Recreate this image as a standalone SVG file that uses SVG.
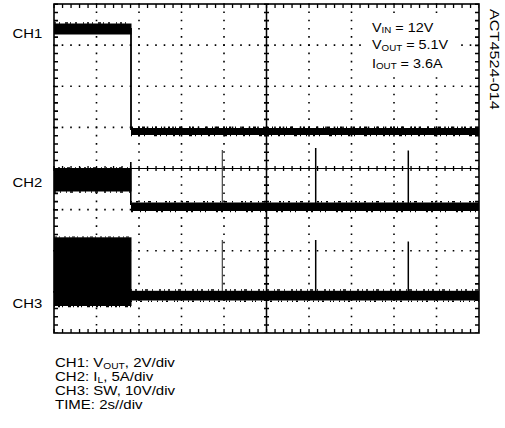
<svg xmlns="http://www.w3.org/2000/svg" width="505" height="428" viewBox="0 0 505 428">
<style>
text{font-family:"Liberation Sans",Arial,sans-serif;fill:#000}
.ch{font-size:13.5px}
.lbl{font-size:12.5px}
.sub{font-size:8.5px}
.dotv{stroke:#000;stroke-width:1.6;stroke-dasharray:1.6 6.625;fill:none}
.doth{stroke:#000;stroke-width:1.6;stroke-dasharray:1.6 6.9;fill:none}
.tr{fill:#000}
.noise{stroke:#000;fill:none}
</style>
<rect width="505" height="428" fill="#fff"/>
<g id="grid">
  <g class="dotv">
    <line x1="96.5" y1="3.2" x2="96.5" y2="333"/>
    <line x1="139" y1="3.2" x2="139" y2="333"/>
    <line x1="181.5" y1="3.2" x2="181.5" y2="333"/>
    <line x1="224" y1="3.2" x2="224" y2="333"/>
    <line x1="309" y1="3.2" x2="309" y2="333"/>
    <line x1="351.5" y1="3.2" x2="351.5" y2="333"/>
    <line x1="394" y1="3.2" x2="394" y2="333"/>
    <line x1="436.5" y1="3.2" x2="436.5" y2="333"/>
  </g>
  <g class="doth">
    <line x1="53.2" y1="45.1" x2="479" y2="45.1"/>
    <line x1="53.2" y1="86.3" x2="479" y2="86.3"/>
    <line x1="53.2" y1="127.4" x2="479" y2="127.4"/>
    <line x1="53.2" y1="209.6" x2="479" y2="209.6"/>
    <line x1="53.2" y1="250.8" x2="479" y2="250.8"/>
    <line x1="53.2" y1="291.9" x2="479" y2="291.9"/>
  </g>
  <line x1="54" y1="168.5" x2="479" y2="168.5" stroke="#000" stroke-width="1.2"/>
  <line x1="266.5" y1="4" x2="266.5" y2="333" stroke="#000" stroke-width="1.5"/>
  <line x1="53.4" y1="168.5" x2="479" y2="168.5" stroke="#000" stroke-width="5" stroke-dasharray="1.3 7.2"/>
  <line x1="266.5" y1="3.4" x2="266.5" y2="333" stroke="#000" stroke-width="5" stroke-dasharray="1.6 6.625"/>
  <line x1="53.4" y1="6" x2="479" y2="6" stroke="#000" stroke-width="4" stroke-dasharray="1.3 7.2"/>
  <line x1="53.4" y1="331" x2="479" y2="331" stroke="#000" stroke-width="4" stroke-dasharray="1.3 7.2"/>
  <line x1="56" y1="3.4" x2="56" y2="333" stroke="#000" stroke-width="4" stroke-dasharray="1.6 6.625"/>
  <line x1="477" y1="3.4" x2="477" y2="333" stroke="#000" stroke-width="4" stroke-dasharray="1.6 6.625"/>
  <rect x="54" y="4" width="425" height="329" fill="none" stroke="#000" stroke-width="1.6"/>
</g>
<g id="traces">
  <!-- CH1 -->
  <rect class="tr" x="54" y="23.5" width="77.5" height="11"/>
  <line class="noise" x1="54" y1="23" x2="131" y2="23" stroke-width="1.5" stroke-dasharray="2 3 1 5 3 2 1 4 2 6 1 3"/>
  <line x1="131" y1="28" x2="131" y2="130" stroke="#000" stroke-width="1.8"/>
  <rect class="tr" x="131" y="128" width="348" height="7"/>
  <line class="noise" x1="131" y1="127.2" x2="479" y2="127.2" stroke-width="1.6" stroke-dasharray="2 5 1 3 3 7 1 2 2 4 1 6"/>
  <line class="noise" x1="131" y1="135.6" x2="479" y2="135.6" stroke-width="1.4" stroke-dasharray="1 6 2 4 1 9 3 3 1 5"/>
  <!-- CH2 -->
  <rect class="tr" x="54" y="168.5" width="77.5" height="23"/>
  <line class="noise" x1="54" y1="168" x2="131" y2="168" stroke-width="1.5" stroke-dasharray="1 3 2 4 1 2 3 5 1 4"/>
  <line class="noise" x1="54" y1="192" x2="131" y2="192" stroke-width="1.4" stroke-dasharray="2 4 1 5 1 3 3 6"/>
  <line x1="130.8" y1="162" x2="130.8" y2="205" stroke="#000" stroke-width="1.6"/>
  <rect class="tr" x="131" y="202.5" width="348" height="8.5"/>
  <line class="noise" x1="131" y1="201.8" x2="479" y2="201.8" stroke-width="1.6" stroke-dasharray="1 4 2 6 1 3 3 5 1 8 2 2"/>
  <line class="noise" x1="131" y1="211.6" x2="479" y2="211.6" stroke-width="1.4" stroke-dasharray="2 7 1 4 1 10 2 3"/>
  <line x1="222.3" y1="150" x2="222.3" y2="203" stroke="#333" stroke-width="1.1"/>
  <line x1="315.7" y1="148" x2="315.7" y2="203" stroke="#000" stroke-width="1.5"/>
  <line x1="408.3" y1="150.5" x2="408.3" y2="203" stroke="#000" stroke-width="1.5"/>
  <!-- CH3 -->
  <rect class="tr" x="54" y="237.3" width="77.5" height="68.7"/>
  <line class="noise" x1="54" y1="237" x2="131" y2="237" stroke-width="1.2" stroke-dasharray="3 2 1 4 2 3 1 2"/>
  <line class="noise" x1="54" y1="306.5" x2="131" y2="306.5" stroke-width="1.4" stroke-dasharray="1 3 2 2 1 5 3 2"/>
  <rect class="tr" x="131" y="290.8" width="348" height="9.7"/>
  <line class="noise" x1="131" y1="290" x2="479" y2="290" stroke-width="1.6" stroke-dasharray="1 3 2 5 1 2 3 4 1 6 2 3"/>
  <line class="noise" x1="131" y1="301.3" x2="479" y2="301.3" stroke-width="1.6" stroke-dasharray="1 4 1 3 2 6 1 2 1 5"/>
  <line x1="222.3" y1="240" x2="222.3" y2="291" stroke="#333" stroke-width="1.1"/>
  <line x1="315.7" y1="240" x2="315.7" y2="291" stroke="#000" stroke-width="1.5"/>
  <line x1="408.3" y1="241.5" x2="408.3" y2="291" stroke="#000" stroke-width="1.5"/>
</g>
<g id="labels">
  <text class="ch" transform="translate(12.5,38) scale(1.1,1)">CH1</text>
  <text class="ch" transform="translate(12.5,187) scale(1.1,1)">CH2</text>
  <text class="ch" transform="translate(12.5,308) scale(1.1,1)">CH3</text>
  <rect x="367" y="19" width="93" height="54" fill="#fff"/>
  <text class="lbl" transform="translate(372,31.7) scale(1.15,1)">V<tspan class="sub" dy="1.5">IN</tspan><tspan dy="-1.5"> = 12V</tspan></text>
  <text class="lbl" transform="translate(372,49.3) scale(1.15,1)">V<tspan class="sub" dy="1.5">OUT</tspan><tspan dy="-1.5"> = 5.1V</tspan></text>
  <text class="lbl" transform="translate(372,67.8) scale(1.15,1)">I<tspan class="sub" dy="1.5">OUT</tspan><tspan dy="-1.5"> = 3.6A</tspan></text>
  <text class="ch" transform="translate(489.5,9) rotate(90) scale(1.2,1)">ACT4524-014</text>
  <text class="lbl" transform="translate(55,367) scale(1.2,1)">CH1: V<tspan class="sub" dy="1.5">OUT</tspan><tspan dy="-1.5">, 2V/div</tspan></text>
  <text class="lbl" transform="translate(55,381) scale(1.2,1)">CH2: I<tspan class="sub" dy="1.5">L</tspan><tspan dy="-1.5">, 5A/div</tspan></text>
  <text class="lbl" transform="translate(55,395) scale(1.2,1)">CH3: SW, 10V/div</text>
  <text class="lbl" transform="translate(55,409) scale(1.2,1)">TIME: 2s//div</text>
</g>
</svg>
